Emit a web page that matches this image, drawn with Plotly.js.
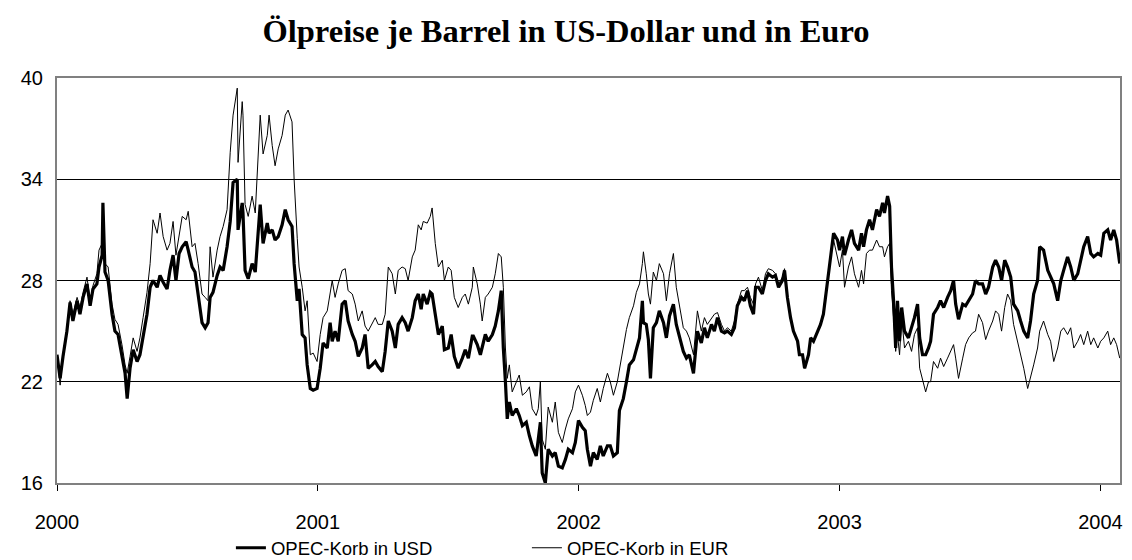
<!DOCTYPE html>
<html>
<head>
<meta charset="utf-8">
<script src="https://cdn.plot.ly/plotly-3.0.1.min.js"></script>
<style>html,body{margin:0;padding:0;background:#fff;}#chart{width:1132px;height:560px;}</style>
</head>
<body>
<div id="chart"></div>
<script>
// Time axis in decimal years
const years = [
2000.000,2000.012,2000.023,2000.038,2000.050,2000.061,2000.077,2000.088,2000.100,2000.115,
2000.127,2000.138,2000.153,2000.161,2000.173,2000.176,2000.184,2000.196,2000.211,2000.222,
2000.234,2000.249,2000.261,2000.269,2000.280,2000.292,2000.307,2000.318,2000.330,2000.345,
2000.357,2000.368,2000.384,2000.395,2000.407,2000.422,2000.433,2000.445,2000.456,2000.468,
2000.480,2000.495,2000.503,2000.518,2000.529,2000.541,2000.556,2000.568,2000.579,2000.587,
2000.598,2000.614,2000.625,2000.637,2000.652,
2000.664,2000.675,2000.691,2000.694,2000.710,2000.713,2000.721,2000.733,2000.748,2000.760,
2000.779,2000.790,2000.806,2000.813,2000.825,2000.836,2000.848,2000.863,2000.875,2000.886,
2000.901,2000.909,2000.921,2000.928,2000.940,2000.951,2000.959,2000.971,2000.982,2000.997,
2001.009,2001.020,2001.036,2001.047,2001.055,2001.066,2001.078,2001.093,2001.105,2001.116,
2001.132,2001.143,2001.155,2001.170,2001.181,2001.193,2001.208,2001.220,2001.231,2001.247,
2001.258,2001.270,2001.285,2001.297,2001.308,2001.323,
2001.335,2001.346,2001.362,2001.373,2001.385,2001.396,2001.404,2001.419,2001.431,2001.438,
2001.450,2001.462,2001.477,2001.485,2001.500,2001.511,2001.523,2001.538,2001.554,2001.565,
2001.577,2001.592,2001.596,2001.611,2001.623,2001.630,2001.642,2001.653,2001.669,2001.680,
2001.692,2001.703,2001.711,2001.719,2001.726,2001.734,2001.745,2001.761,2001.772,2001.784,
2001.799,2001.811,2001.822,2001.837,2001.845,2001.853,2001.860,2001.872,2001.883,2001.899,
2001.910,2001.922,2001.937,2001.949,2001.960,2001.976,2001.987,2001.999,
2002.014,2002.025,2002.033,2002.045,2002.056,2002.071,2002.083,2002.094,2002.110,2002.121,
2002.133,2002.148,2002.156,2002.171,2002.183,2002.194,2002.210,2002.221,2002.233,2002.244,
2002.248,2002.259,2002.267,2002.275,2002.286,2002.298,2002.309,2002.325,2002.336,2002.348,
2002.363,2002.374,2002.386,2002.401,2002.413,2002.424,2002.440,2002.447,2002.455,2002.470,
2002.482,2002.493,2002.509,2002.520,2002.532,2002.547,2002.559,2002.570,2002.585,2002.597,
2002.608,2002.624,2002.635,2002.647,2002.658,2002.670,
2002.678,2002.689,2002.704,2002.716,2002.727,2002.743,2002.754,2002.766,2002.781,2002.789,
2002.800,2002.812,2002.823,2002.839,2002.846,2002.858,2002.866,2002.881,2002.889,2002.900,
2002.915,2002.927,2002.938,2002.954,2002.965,2002.977,2002.992,2003.000,2003.011,2003.019,
2003.034,2003.046,2003.057,2003.073,2003.084,2003.092,2003.103,2003.115,2003.126,2003.142,
2003.153,2003.165,2003.172,2003.184,2003.192,2003.199,2003.207,2003.215,2003.222,2003.230,
2003.238,2003.249,2003.264,2003.276,2003.287,2003.299,2003.307,2003.318,2003.330,2003.341,
2003.349,2003.360,2003.376,2003.387,2003.399,2003.414,2003.426,2003.437,2003.445,2003.456,
2003.472,2003.483,2003.495,2003.510,2003.521,2003.533,2003.548,2003.560,2003.571,2003.587,
2003.598,2003.610,2003.621,2003.633,2003.644,2003.656,2003.667,2003.683,2003.694,2003.706,
2003.721,2003.732,2003.744,2003.759,2003.767,2003.782,2003.798,2003.809,2003.821,2003.836,
2003.848,2003.859,2003.874,2003.886,2003.898,2003.913,2003.924,2003.936,2003.951,2003.963,
2003.974,2003.990,2004.001,2004.013,2004.028,2004.039,2004.051,2004.062,2004.074
];

// OPEC basket in USD per barrel
const usd = [
23.6,22.2,23.5,25.0,26.7,25.6,26.8,26.0,27.0,27.8,
26.5,27.5,27.8,28.8,29.5,32.6,28.5,28.0,26.0,25.0,
24.8,23.5,22.5,21.0,22.8,23.9,23.2,23.6,24.6,26.0,
27.6,28.0,27.6,28.3,27.9,27.5,28.6,29.5,28.0,29.6,
30.0,30.3,29.8,28.8,28.5,27.0,25.5,25.2,25.5,27.0,
27.3,28.3,28.8,28.6,30.0,
31.5,33.8,34.0,31.0,32.6,32.0,28.6,28.1,29.0,28.5,
32.5,30.2,31.4,30.8,31.0,30.4,30.6,31.3,32.2,31.6,
31.2,29.0,26.8,27.5,24.8,24.6,23.0,21.6,21.5,21.6,
22.8,24.3,24.0,25.5,24.4,25.0,24.4,26.6,26.8,25.6,
24.8,24.4,23.5,24.0,24.8,22.8,23.0,23.2,22.9,22.6,
23.8,25.6,25.0,24.0,25.4,25.8,
25.5,25.0,25.8,26.8,27.2,26.3,27.2,26.6,27.3,27.2,
26.0,24.8,25.3,23.9,24.0,24.8,23.5,22.8,23.4,23.9,
23.4,24.7,24.7,24.2,23.6,24.0,24.8,24.4,24.8,25.3,
26.2,27.4,24.0,22.0,19.8,20.8,20.0,20.4,20.0,19.4,
19.6,18.8,18.2,17.6,18.8,19.6,16.6,16.0,18.0,17.6,
17.8,17.0,16.9,17.4,18.0,17.8,18.4,19.7,
19.3,19.1,18.0,17.0,17.8,17.4,18.2,17.6,18.2,18.2,
17.6,17.8,20.3,21.0,22.0,23.0,23.3,24.0,24.6,26.8,
25.5,25.4,24.5,22.2,25.2,25.5,26.2,25.5,24.6,25.9,
26.6,25.4,24.6,23.8,23.4,23.6,22.5,23.6,25.0,24.3,
25.2,24.6,25.4,25.0,25.8,25.0,24.9,25.0,24.8,25.2,
26.5,27.0,26.8,27.4,26.5,26.0,
27.6,27.6,27.2,28.0,28.4,28.2,28.3,27.6,28.0,28.6,
27.0,25.8,25.0,24.4,23.6,23.6,22.8,23.6,24.6,24.4,
25.0,25.4,26.0,28.0,29.4,30.8,30.4,29.8,30.6,29.5,
30.4,31.0,30.2,29.8,30.8,30.0,31.0,31.6,31.0,32.2,
31.8,32.6,32.0,33.0,32.4,28.8,26.8,24.0,26.8,24.4,
26.4,25.0,24.6,25.2,25.8,26.6,24.6,23.6,23.6,24.0,
24.4,26.0,26.4,26.8,26.4,27.0,27.4,28.0,26.6,25.7,
26.6,26.5,26.8,27.2,28.0,27.8,27.8,27.2,27.6,28.8,
29.2,28.8,28.0,29.2,28.8,28.2,26.6,26.2,25.6,25.0,
24.6,25.6,27.2,28.0,30.0,29.8,28.6,28.2,27.8,26.8,
28.0,28.6,29.4,28.8,28.0,28.4,29.2,30.0,30.6,29.6,
29.4,29.6,29.5,30.8,31.0,30.4,31.0,30.4,29.0
];

// OPEC basket in EUR per barrel
const eur = [
23.6,21.8,23.6,25.2,26.8,26.0,27.0,26.4,27.3,28.2,
26.8,27.7,28.4,29.8,30.2,31.0,29.0,28.8,26.6,25.7,
25.4,24.2,23.0,22.5,23.5,24.6,23.8,24.6,25.8,27.3,
29.0,31.6,30.8,32.0,30.6,29.8,30.2,31.5,29.5,30.8,
31.8,31.6,32.1,30.0,30.2,29.0,27.2,27.0,26.8,30.0,
28.2,29.8,30.6,31.2,32.2,
35.6,37.8,39.4,35.0,38.6,37.8,32.5,31.8,33.0,32.0,
37.8,35.5,36.6,37.8,36.0,34.8,35.8,36.6,37.8,38.1,
37.4,34.0,30.5,28.8,27.6,26.2,26.8,23.6,23.7,23.2,
24.8,25.8,26.2,27.4,28.0,27.0,27.8,28.6,28.7,27.4,
27.2,26.6,25.6,26.2,25.3,25.0,25.4,25.8,25.4,25.4,
26.0,28.8,28.4,27.2,28.6,28.8,
28.7,28.0,29.4,29.8,31.3,31.0,31.5,31.4,31.8,32.3,
30.2,28.8,29.2,28.0,28.8,28.6,27.0,26.4,27.0,27.2,
26.6,27.6,28.8,27.8,26.6,25.6,27.0,27.2,27.6,28.4,
29.6,29.4,27.6,24.0,22.2,23.0,21.4,22.0,22.4,21.2,
21.4,21.7,20.4,20.0,20.4,22.0,18.6,18.0,20.5,19.6,
20.8,19.0,18.4,19.2,19.8,20.4,21.4,21.8,
21.2,20.6,20.0,20.2,20.9,21.6,20.8,21.6,22.5,22.0,
21.2,22.0,22.7,24.0,25.1,25.8,26.5,27.3,27.8,29.0,
29.7,28.4,27.2,26.6,28.5,28.0,29.0,28.4,26.8,28.4,
29.6,27.6,26.6,25.2,25.0,24.6,23.6,25.0,26.2,25.0,
25.8,25.4,25.8,26.0,26.1,25.4,25.0,25.2,25.0,25.6,
26.6,27.4,27.4,27.6,27.0,26.6,
27.8,28.2,27.4,28.4,28.7,28.6,28.4,27.8,28.2,28.7,
27.0,25.8,25.0,24.4,23.6,23.6,22.8,23.6,24.6,24.4,
25.0,25.4,26.2,28.2,29.4,30.4,29.4,28.8,29.8,27.6,
28.8,29.4,28.4,27.6,28.6,27.8,29.6,29.8,29.8,30.4,
30.0,30.0,29.4,30.0,30.2,27.4,25.8,23.8,24.8,23.6,
25.8,24.0,24.4,23.8,24.8,25.2,22.8,22.2,21.4,22.0,
22.0,23.2,22.8,23.4,22.9,23.4,23.8,24.2,23.4,22.2,
23.4,24.2,24.6,24.9,25.0,26.0,25.5,24.5,25.0,25.6,
26.2,26.0,25.0,26.4,27.2,26.8,25.4,24.4,23.6,22.8,
21.6,22.2,23.0,24.0,25.0,25.6,24.8,24.4,23.2,24.0,
25.0,25.2,24.8,25.2,24.0,24.4,24.8,24.2,25.0,24.2,
24.6,24.0,24.4,24.6,25.0,24.2,24.6,24.2,23.4
];

const seriesNames = ['OPEC-Korb in USD', 'OPEC-Korb in EUR'];
const yTicks = [16, 22, 28, 34, 40];
const xTicks = [2000, 2001, 2002, 2003, 2004];
const xTickLabels = ['2000', '2001', '2002', '2003', '2004'];
const chartTitle = 'Ölpreise je Barrel in US-Dollar und in Euro';

const traces = [
  {x: years, y: usd, name: seriesNames[0], type: 'scatter', mode: 'lines',
   line: {color: '#000', width: 3.2}},
  {x: years, y: eur, name: seriesNames[1], type: 'scatter', mode: 'lines',
   line: {color: '#000', width: 1}}
];

const layout = {
  width: 1132, height: 560,
  paper_bgcolor: '#fff', plot_bgcolor: '#fff',
  margin: {l: 57, r: 12, t: 78, b: 77, autoexpand: false},
  title: {text: '<b>' + chartTitle + '</b>', x: 0.5, xanchor: 'center',
          y: 0.945, yanchor: 'middle', yref: 'container',
          font: {family: 'Liberation Serif, Times New Roman, serif', size: 32.5, color: '#000'}},
  xaxis: {range: [2000, 2004.075], tickvals: xTicks, ticktext: xTickLabels,
          showgrid: false, zeroline: false,
          showline: true, linecolor: '#808080', linewidth: 2, mirror: true,
          ticks: 'outside', ticklen: 6, tickwidth: 1, tickcolor: '#000',
          ticklabelstandoff: 14,
          tickfont: {family: 'Liberation Sans, Arial, sans-serif', size: 20, color: '#000'}},
  yaxis: {range: [16, 40], tickvals: yTicks, showgrid: true, gridcolor: '#000', gridwidth: 1,
          zeroline: false, showline: true, linecolor: '#808080', linewidth: 2, mirror: true,
          ticks: '', ticklabelstandoff: 8,
          tickfont: {family: 'Liberation Sans, Arial, sans-serif', size: 20, color: '#000'}},
  showlegend: true,
  legend: {orientation: 'h', x: 0.1636, xanchor: 'left', xref: 'paper',
           y: 0.021, yanchor: 'middle', yref: 'container',
           entrywidth: 251, entrywidthmode: 'pixels',
           font: {family: 'Liberation Sans, Arial, sans-serif', size: 18.5, color: '#000'},
           bgcolor: 'rgba(0,0,0,0)'}
};

Plotly.newPlot('chart', traces, layout, {displayModeBar: false, staticPlot: true});
</script>
</body>
</html>
